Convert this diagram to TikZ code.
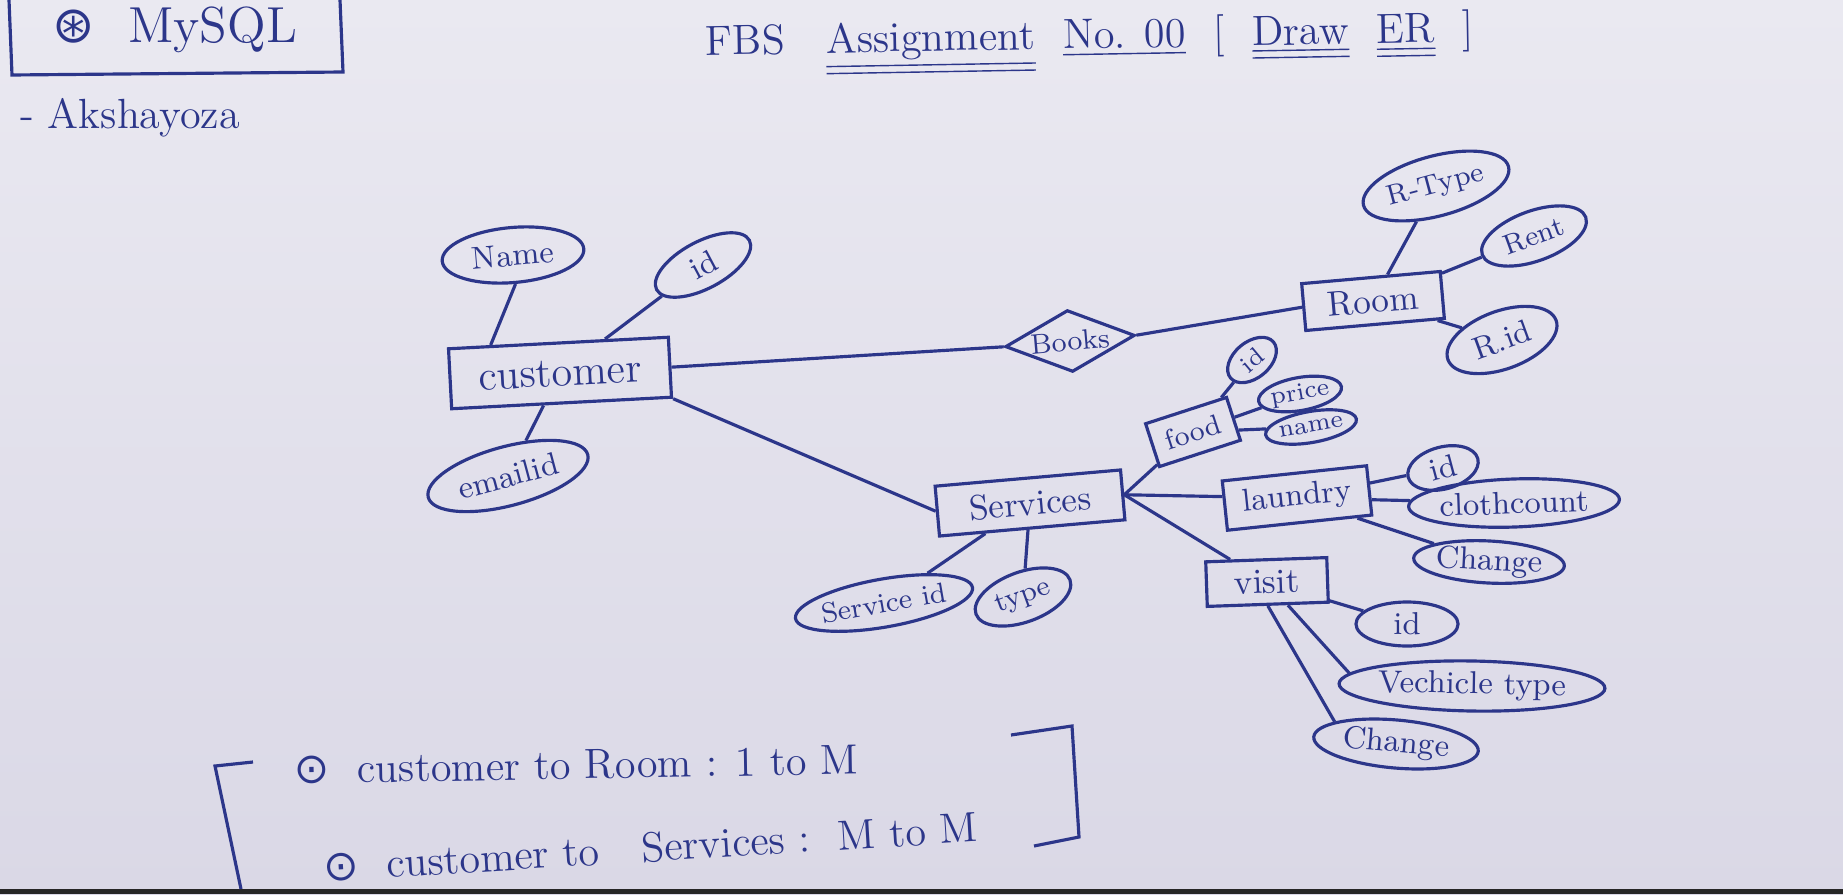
\documentclass[tikz,border=0pt]{standalone}
\usepackage{fontspec}
\usepackage{tikz}
\usetikzlibrary{shapes.geometric, positioning}
\newfontfamily\symfont{DejaVu Sans}

\definecolor{ink}{RGB}{44,54,138}
\definecolor{paper}{RGB}{218,216,230}
\definecolor{papertop}{RGB}{234,233,241}

\tikzset{
  entity/.style={draw=ink, line width=0.9pt, text=ink, inner sep=3pt},
  attrib/.style={draw=ink, ellipse, line width=0.9pt, text=ink, font=\small, inner sep=0pt},
  relation/.style={draw=ink, diamond, aspect=2.1, line width=0.9pt, text=ink, font=\footnotesize, inner sep=0pt},
  link/.style={draw=ink, line width=0.9pt},
  handtext/.style={text=ink}
}

\begin{document}
\begin{tikzpicture}[x=0.01cm, y=-0.01cm]
% Papier
\shade[top color=papertop, bottom color=paper] (0,0) rectangle (1843,894);
\fill[black!85] (0,889) rectangle (1843,894);
\useasboundingbox (0,0) rectangle (1843,894);

% Kopf
\draw[link] (9,0) -- (12,75) -- (343,72) -- (340,0);
\node[handtext, font=\Large, inner sep=1pt] (mysql) at (175,30) {{\symfont ⊛}\ \ MySQL};
\node[handtext, font=\large, anchor=west] (author) at (8,118) {- Akshayoza};
\node[handtext, font=\large, rotate=1] (title) at (1090,44)
  {FBS\ \ \ \underline{\underline{Assignment}}\ \ \underline{No. 00}\ \ [\ \ \underline{\underline{Draw}}\ \ \underline{\underline{ER}}\ \ ]};

% Entitaeten
\node[entity, font=\large, minimum width=2.2cm, minimum height=0.6cm, rotate=3] (customer) at (560,373) {customer};
\node[entity, minimum width=1.39cm, minimum height=0.47cm, rotate=5] (room) at (1373,301) {Room};
\node[entity, minimum width=1.86cm, minimum height=0.5cm, rotate=5] (services) at (1030,503) {Services};
\node[entity, font=\footnotesize, minimum width=0.85cm, minimum height=0.45cm, rotate=18] (food) at (1193,432) {food};
\node[entity, font=\small, minimum width=1.45cm, minimum height=0.41cm, rotate=6] (laundry) at (1297,498) {laundry};
\node[entity, minimum width=1.21cm, minimum height=0.41cm, rotate=2] (visit) at (1267,582) {visit};

% Beziehung
\node[relation, minimum width=1.3cm, minimum height=0.62cm, rotate=5] (books) at (1070,341) {Books};

% Attribute customer
\node[attrib, minimum width=1.42cm, minimum height=0.55cm, rotate=5] (cname) at (513,255) {Name};
\node[attrib, minimum width=1.05cm, minimum height=0.47cm, rotate=28] (cid) at (703,265) {id};
\node[attrib, minimum width=1.65cm, minimum height=0.59cm, rotate=15] (cemail) at (508,476) {emailid};

% Attribute Room
\node[attrib, font=\footnotesize, minimum width=1.5cm, minimum height=0.6cm, rotate=15] (rtype) at (1436,186) {R-Type};
\node[attrib, font=\footnotesize, minimum width=1.1cm, minimum height=0.5cm, rotate=20] (rrent) at (1534,236) {Rent};
\node[attrib, minimum width=1.15cm, minimum height=0.58cm, rotate=20] (rid) at (1502,340) {R.id};

% Attribute Services
\node[attrib, font=\footnotesize, minimum width=1.78cm, minimum height=0.48cm, rotate=10] (sid) at (884,603) {Service id};
\node[attrib, font=\footnotesize, minimum width=1.0cm, minimum height=0.5cm, rotate=20] (stype) at (1023,597) {type};

% Attribute food
\node[attrib, font=\scriptsize, minimum width=0.56cm, minimum height=0.36cm, rotate=40] (fid) at (1252,360) {id};
\node[attrib, font=\scriptsize, minimum width=0.8cm, minimum height=0.33cm, rotate=10] (fprice) at (1300,394) {price};
\node[attrib, font=\scriptsize, minimum width=0.92cm, minimum height=0.31cm, rotate=10] (fname) at (1311,427) {name};

% Attribute laundry
\node[attrib, minimum width=0.72cm, minimum height=0.42cm, rotate=15] (lid) at (1443,468) {id};
\node[attrib, minimum width=1.85cm, minimum height=0.48cm, rotate=2] (lcount) at (1514,503) {clothcount};
\node[attrib, minimum width=1.5cm, minimum height=0.42cm, rotate=-3] (lcharge) at (1489,562) {Change};

% Attribute visit
\node[attrib, minimum width=1.02cm, minimum height=0.44cm] (vid) at (1407,624) {id};
\node[attrib, minimum width=2.35cm, minimum height=0.5cm, rotate=-1] (vtype) at (1472,686) {Vechicle type};
\node[attrib, minimum width=1.65cm, minimum height=0.48cm, rotate=-5] (vcharge) at (1396,744) {Change};

% Verbindungen
\draw[link] (customer.east) -- (books.west);
\draw[link] (books.east) -- (room.west);
\draw[link] (customer.south east) -- (services.west);
\draw[link] (cname.south) -- (customer.155);
\draw[link] (cid) -- (customer);
\draw[link] (cemail) -- (customer);
\draw[link] (rtype) -- (room);
\draw[link] (rrent) -- (room);
\draw[link] (rid) -- (room);
\draw[link] (sid) -- (services);
\draw[link] (stype) -- (services);
\draw[link] (services.east) -- (food);
\draw[link] (services.east) -- (laundry);
\draw[link] (services.east) -- (visit);
\draw[link] (food) -- (fid);
\draw[link] (food) -- (fprice);
\draw[link] (food) -- (fname);
\draw[link] (laundry) -- (lid);
\draw[link] (laundry) -- (lcount);
\draw[link] (laundry) -- (lcharge);
\draw[link] (visit) -- (vid);
\draw[link] (visit) -- (vtype.175);
\draw[link] (visit.south) -- (vcharge.165);

% Kardinalitaeten
\node[handtext, font=\large, anchor=west, rotate=1] (rule1) at (282,770) {{\symfont ⊙}\ \ customer to Room : 1 to M};
\node[handtext, font=\large, anchor=west, rotate=3.5] (rule2) at (311,868) {{\symfont ⊙}\ \ customer to\quad Services :\ \ M to M};
\draw[link] (253,762) -- (215,766) -- (241,889);
\draw[link] (1011,735) -- (1072,726) -- (1079,837) -- (1034,846);
\end{tikzpicture}
\end{document}
